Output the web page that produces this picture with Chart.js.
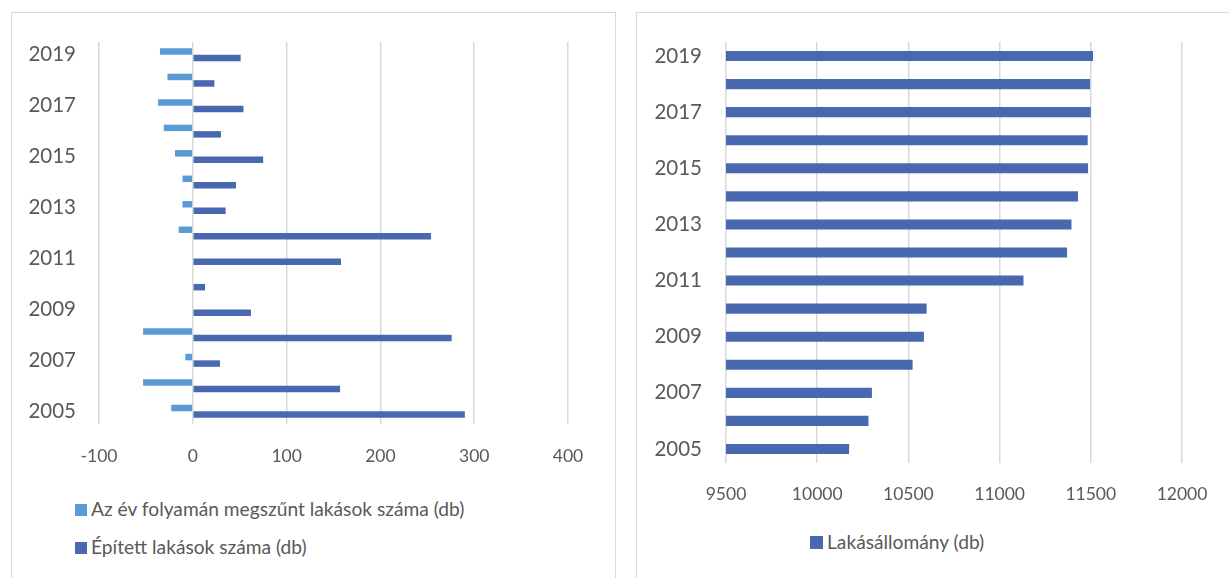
<!DOCTYPE html>
<html>
<head>
<meta charset="utf-8">
<script src="https://cdn.jsdelivr.net/npm/chart.js@4/dist/chart.umd.min.js"></script>
<style>
  html, body { margin: 0; padding: 0; background: #fff; width: 1229px; height: 578px; overflow: hidden; }
  .frame { position: absolute; border: 1px solid #d9d9d9; background: #fff; }
  #f1 { left: 11px; top: 12px; width: 603px; height: 600px; }
  #f2 { left: 636px; top: 12px; width: 620px; height: 600px; }
  canvas { position: absolute; left: 0; top: 0; }
  .leg { position: absolute; font-family: Lato, Carlito, Calibri, sans-serif; font-size: 19.2px; color: #595959; white-space: nowrap; line-height: 24px; }
  .leg i { display: inline-block; width: 12px; height: 12px; margin-right: 4px; vertical-align: 0px; }
</style>
</head>
<body>
<div class="frame" id="f1"><canvas id="c1" width="603" height="470"></canvas></div>
<div class="frame" id="f2"><canvas id="c2" width="592" height="500"></canvas></div>
<div class="leg" id="l1a" style="left:75px; top:497px;"><i style="background:#5B9BD5"></i><span id="t1a"></span></div>
<div class="leg" id="l1b" style="left:75px; top:535px;"><i style="background:#4868B0"></i><span id="t1b"></span></div>
<div class="leg" id="l2" style="left:810px; top:530px;"><i style="background:#4868B0; width:13px; height:13px;"></i><span id="t2"></span></div>
<script>
// ---- data ----
const years = ['2005','2006','2007','2008','2009','2010','2011','2012','2013','2014','2015','2016','2017','2018','2019'];
const demolishedLabel = 'Az év folyamán megszűnt lakások száma (db)';
const builtLabel = 'Épített lakások száma (db)';
const stockLabel = 'Lakásállomány (db)';
const demolished = [-23, -53, -8, -53, 0, 0, 0, -15, -11, -11, -19, -31, -37, -27, -35];
const built = [290, 157, 29, 276, 62, 13, 158, 254, 35, 46, 75, 30, 54, 23, 51];
const stock = [10175, 10281, 10300, 10523, 10585, 10600, 11131, 11370, 11394, 11430, 11485, 11483, 11500, 11496, 11512];
const leftTicks = {min: -100, max: 400, step: 100};
const rightTicks = {min: 9500, max: 12000, step: 500};

const LIGHT = '#5B9BD5';
const DARK = '#4868B0';
const GRID = '#d9d9d9';
const TXT = '#595959';

Chart.defaults.font.family = 'Lato, Carlito, Calibri, sans-serif';
Chart.defaults.font.size = 20;
Chart.defaults.color = TXT;

document.getElementById('t1a').textContent = demolishedLabel;
document.getElementById('t1b').textContent = builtLabel;
document.getElementById('t2').textContent = stockLabel;

function oddYearTick(val, idx) { return idx % 2 === 0 ? this.getLabelForValue(val) : ''; }
function plainTick(v) { return String(v); }
function fixX(h) { return s => { s.height = h; s.paddingLeft = 0; s.paddingRight = 0; }; }
function fixY(w) { return s => { s.width = w; s.paddingTop = 0; s.paddingBottom = 0; }; }

new Chart(document.getElementById('c1'), {
  type: 'bar',
  data: {
    labels: years,
    datasets: [
      { label: demolishedLabel, data: demolished, backgroundColor: LIGHT },
      { label: builtLabel, data: built, backgroundColor: DARK }
    ]
  },
  options: {
    indexAxis: 'y',
    responsive: false,
    animation: false,
    layout: { padding: { left: 0, right: 47, top: 29, bottom: 9 } },
    datasets: { bar: { categoryPercentage: 0.51, barPercentage: 1 } },
    plugins: { legend: { display: false }, tooltip: { enabled: false } },
    scales: {
      x: {
        min: leftTicks.min, max: leftTicks.max,
        ticks: { stepSize: leftTicks.step, padding: 22, color: TXT, font: { size: 17.5 }, callback: plainTick },
        grid: { color: GRID, lineWidth: 1.5, drawTicks: false },
        border: { display: false },
        afterFit: fixX(50)
      },
      y: {
        reverse: true,
        ticks: { autoSkip: false, callback: oddYearTick, padding: 23, color: TXT, font: { size: 20.5 } },
        grid: { display: false, drawTicks: false },
        border: { display: false },
        afterFit: fixY(87)
      }
    }
  }
});

new Chart(document.getElementById('c2'), {
  type: 'bar',
  data: {
    labels: years,
    datasets: [
      { label: stockLabel, data: stock, backgroundColor: DARK }
    ]
  },
  options: {
    indexAxis: 'y',
    responsive: false,
    animation: false,
    layout: { padding: { left: 0, right: 47, top: 29, bottom: 0 } },
    datasets: { bar: { categoryPercentage: 1, barPercentage: 0.36 } },
    plugins: { legend: { display: false }, tooltip: { enabled: false } },
    scales: {
      x: {
        min: rightTicks.min, max: rightTicks.max,
        ticks: { stepSize: rightTicks.step, padding: 21, color: TXT, font: { size: 17.5 }, callback: plainTick },
        grid: { color: GRID, lineWidth: 1.5, drawTicks: false },
        border: { display: false },
        afterFit: fixX(50)
      },
      y: {
        reverse: true,
        ticks: { autoSkip: false, callback: oddYearTick, padding: 24, color: TXT, font: { size: 20.5 } },
        grid: { display: false, drawTicks: false },
        border: { display: false },
        afterFit: fixY(89)
      }
    }
  }
});
</script>
</body>
</html>
